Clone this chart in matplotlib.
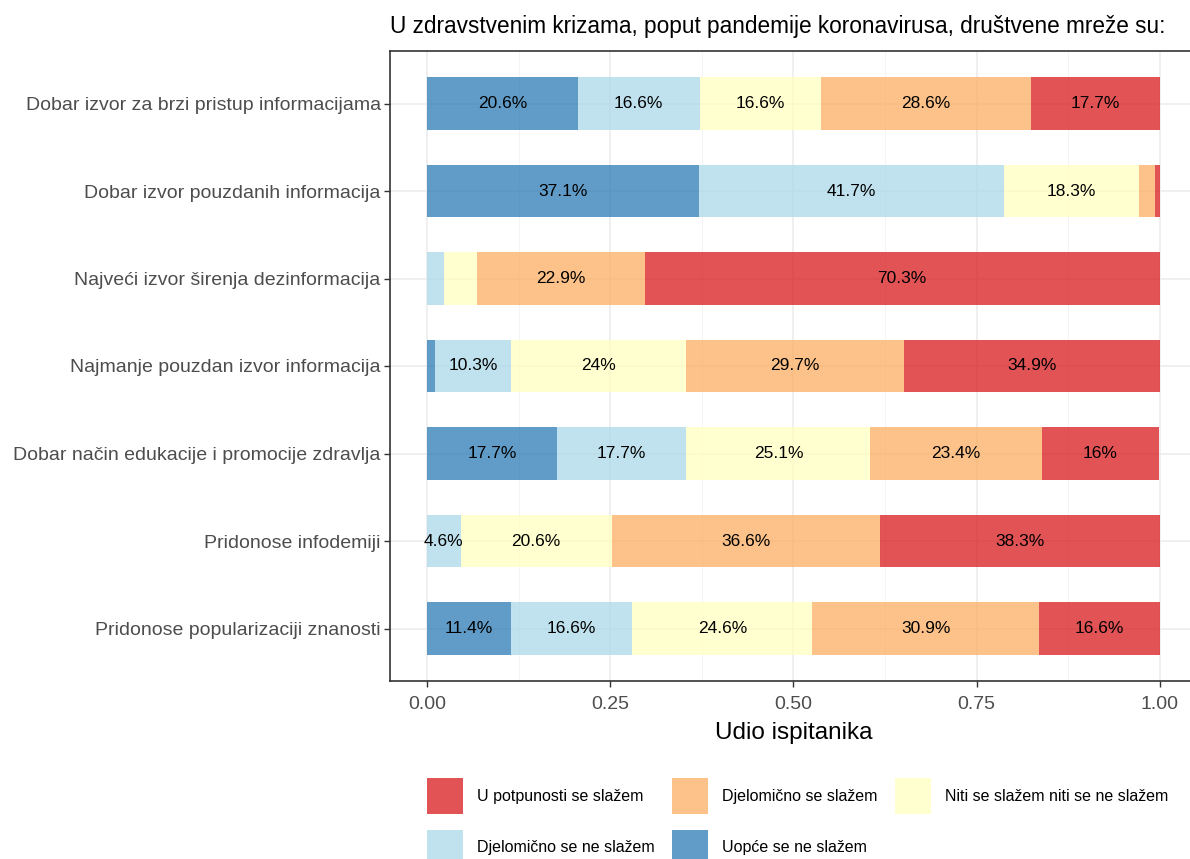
import matplotlib
matplotlib.use("Agg")
from matplotlib import pyplot as plt
from matplotlib.patches import Patch
from matplotlib.ticker import MultipleLocator

plt.rcParams['font.family'] = ['Liberation Sans', 'DejaVu Sans']

categories = [
    "Dobar izvor za brzi pristup informacijama",
    "Dobar izvor pouzdanih informacija",
    "Najveći izvor širenja dezinformacija",
    "Najmanje pouzdan izvor informacija",
    "Dobar način edukacije i promocije zdravlja",
    "Pridonose infodemiji",
    "Pridonose popularizaciji znanosti",
]

# percentages, left to right in the stack
uopce_ne = [20.6, 37.1, 0.0, 1.1, 17.7, 0.0, 11.4]
djelom_ne = [16.6, 41.7, 2.3, 10.3, 17.7, 4.6, 16.6]
niti = [16.6, 18.3, 4.5, 24.0, 25.1, 20.6, 24.6]
djelom_da = [28.6, 2.3, 22.9, 29.7, 23.4, 36.6, 30.9]
potpuno = [17.7, 0.6, 70.3, 34.9, 16.0, 38.3, 16.6]

series = [
    ("Uopće se ne slažem", uopce_ne, "#2C7BB6"),
    ("Djelomično se ne slažem", djelom_ne, "#ABD9E9"),
    ("Niti se slažem niti se ne slažem", niti, "#FFFFBF"),
    ("Djelomično se slažem", djelom_da, "#FDAE61"),
    ("U potpunosti se slažem", potpuno, "#D7191C"),
]

W, H = 1190, 859
fig = plt.figure(figsize=(W / 100, H / 100), dpi=100)
ax = fig.add_axes([390.4 / W, 1 - 681 / H, 806 / W, 630 / H])

ypos = list(range(len(categories)))
left = [0.0] * len(categories)
handles = {}
for name, vals, color in series:
    widths = [v / 100 for v in vals]
    ax.barh(ypos, widths, left=left, height=0.6, color=color, alpha=0.75,
            linewidth=0, zorder=2)
    for i, v in enumerate(vals):
        if v >= 4.6:
            ax.text(left[i] + widths[i] / 2, ypos[i], f"{v:g}%", ha="center",
                    va="center", fontsize=12.5, color="black", zorder=3)
    left = [l + w for l, w in zip(left, widths)]
    handles[name] = Patch(facecolor=color, alpha=0.75, edgecolor="none")

ax.set_xlim(-0.05, 1.05)
ax.set_ylim(6.6, -0.6)
ax.set_yticks(ypos)
ax.set_yticklabels(categories)
ax.xaxis.set_minor_locator(MultipleLocator(0.125))
ax.set_xticks([0, 0.25, 0.5, 0.75, 1.0])
ax.set_xticklabels(["0.00", "0.25", "0.50", "0.75", "1.00"])
ax.grid(True, which="major", color="#EBEBEB", linewidth=1.1, zorder=0)
ax.grid(True, which="minor", axis="x", color="#F2F2F2", linewidth=0.6, zorder=0)
ax.set_axisbelow(True)
ax.tick_params(axis="both", which="major", length=4, width=1.0, color="#333333",
               labelsize=14, labelcolor="#4D4D4D", pad=3)
ax.tick_params(axis="x", which="major", pad=7)
ax.tick_params(axis="x", which="minor", length=0)
for s in ax.spines.values():
    s.set_color("#333333")
    s.set_linewidth(1.2)

ax.set_xlabel("Udio ispitanika", fontsize=17.5, color="black", labelpad=6)
fig.text(390 / W, 1 - 27 / H, "U zdravstvenim krizama, poput pandemije koronavirusa, društvene mreže su:",
         fontsize=16.3, ha="left", va="center", color="black")

order = ["U potpunosti se slažem", "Djelomično se ne slažem", "Djelomično se slažem",
         "Uopće se ne slažem", "Niti se slažem niti se ne slažem"]
fig.legend([handles[n] for n in order], order, loc="upper left",
           bbox_to_anchor=(427 / W, 1 - 778 / H), ncol=3, frameon=False,
           fontsize=11.5, handlelength=2.25, handleheight=3.08,
           handletextpad=0.875, columnspacing=1.1, labelspacing=1.0,
           borderpad=0, borderaxespad=0)

fig.savefig("out.png", dpi=100)
